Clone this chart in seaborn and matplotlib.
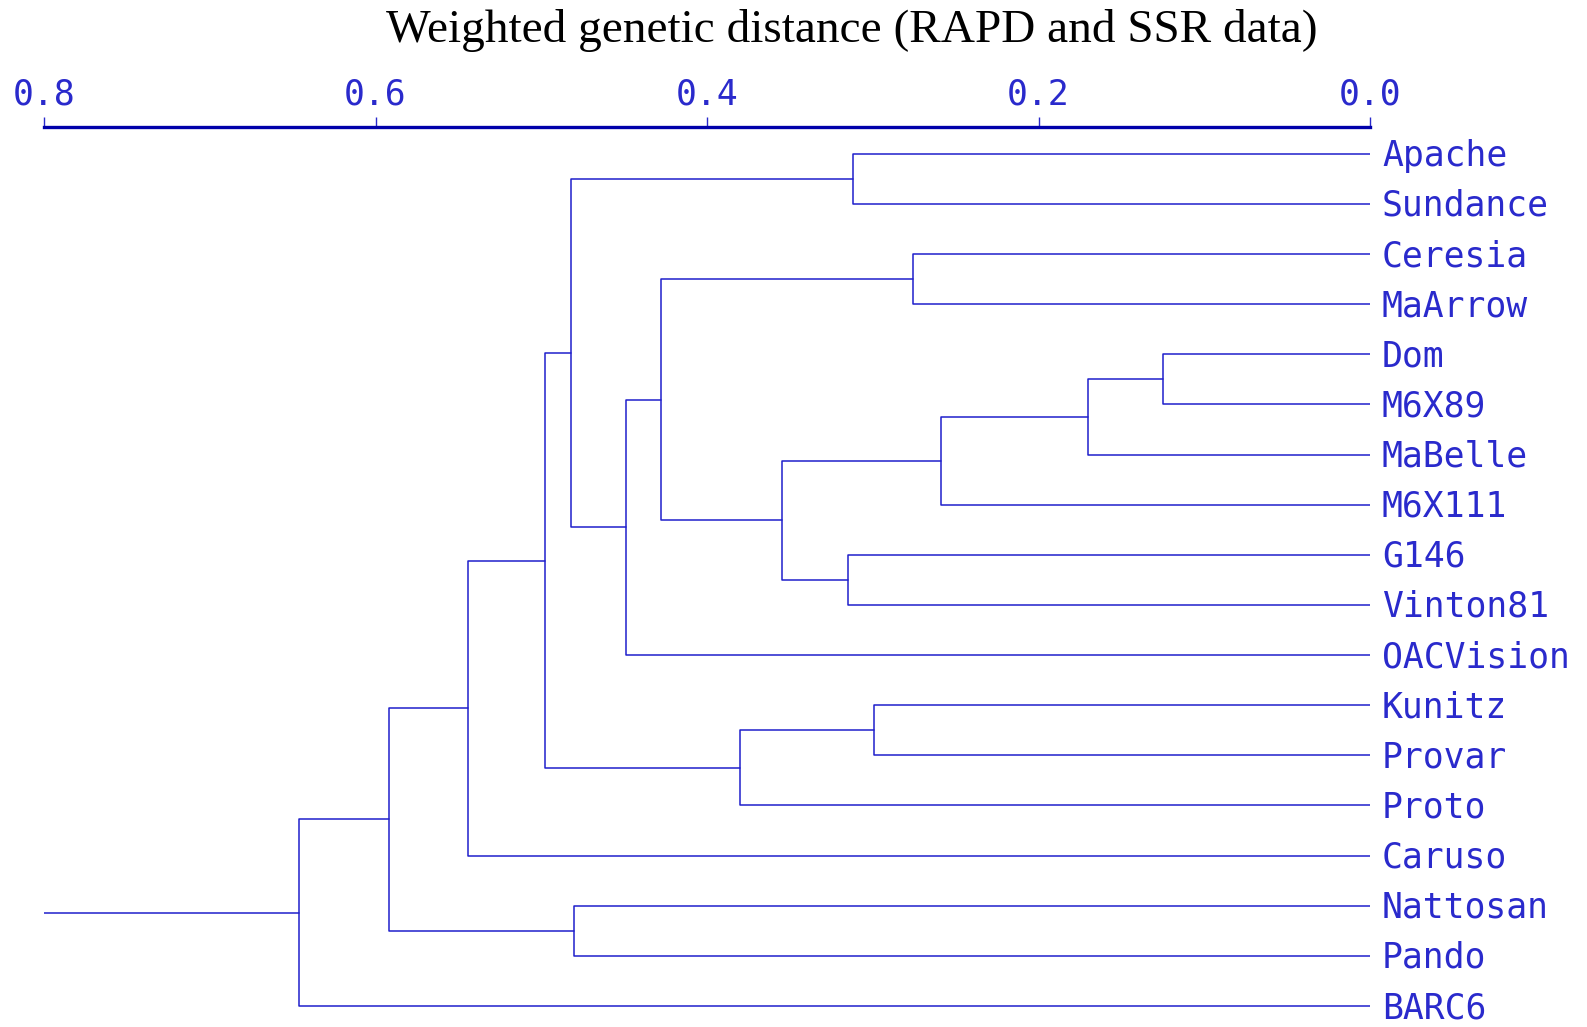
import numpy as np
import pandas as pd
import matplotlib
matplotlib.use("Agg")
import matplotlib.pyplot as plt
import seaborn as sns

# ---- data ----
leaves = ["Apache", "Sundance", "Ceresia", "MaArrow", "Dom", "M6X89", "MaBelle",
          "M6X111", "G146", "Vinton81", "OACVision", "Kunitz", "Provar", "Proto",
          "Caruso", "Nattosan", "Pando", "BARC6"]
# merges: new cluster ids start at len(leaves)
merge_left = [0, 2, 4, 20, 21, 8, 22, 19, 25, 18, 11, 28, 27, 30, 15, 31, 33]
merge_right = [1, 3, 5, 6, 7, 9, 23, 24, 10, 26, 12, 13, 29, 14, 16, 32, 17]
merge_height = [0.312, 0.276, 0.125, 0.170, 0.259, 0.315, 0.355, 0.428, 0.449,
                0.482, 0.299, 0.380, 0.498, 0.544, 0.480, 0.592, 0.646]
root_extent = 0.8
tick_values = [0.8, 0.6, 0.4, 0.2, 0.0]
tick_labels = ["0.8", "0.6", "0.4", "0.2", "0.0"]
title = "Weighted genetic distance (RAPD and SSR data)"

# ---- build segments ----
n = len(leaves)
ypos = {i: float(i) for i in range(n)}
hpos = {i: 0.0 for i in range(n)}
rows = []
for k, (a, b, h) in enumerate(zip(merge_left, merge_right, merge_height)):
    cid = n + k
    pts = [(hpos[a], ypos[a]), (h, ypos[a]), (h, ypos[b]), (hpos[b], ypos[b])]
    for j, (x, y) in enumerate(pts):
        rows.append({"seg": k, "order": j, "x": x, "y": y})
    ypos[cid] = (ypos[a] + ypos[b]) / 2
    hpos[cid] = h
root = n + len(merge_height) - 1
rows.append({"seg": len(merge_height), "order": 0, "x": hpos[root], "y": ypos[root]})
rows.append({"seg": len(merge_height), "order": 1, "x": root_extent, "y": ypos[root]})
df = pd.DataFrame(rows)

# ---- figure ----
sns.set_theme(style="white")
W, H = 1587, 1027
fig = plt.figure(figsize=(W / 100, H / 100), dpi=100)
x0, x1 = 44, 1370
top_px = 126.5
ax = fig.add_axes([x0 / W, 0, (x1 - x0) / W, (H - top_px) / H])

line_color = "#1f1fcc"
sns.lineplot(data=df, x="x", y="y", units="seg", estimator=None, sort=False,
             color=line_color, lw=1.1, ax=ax, legend=False)

y_first, y_last = 153.8, 1006.0
step = (y_last - y_first) / (n - 1)
ax.set_ylim((n - 1) + (H - y_last) / step, -(y_first - top_px) / step)
ax.set_xlim(0.8, 0.0)
ax.set_xlabel("")
ax.set_ylabel("")
ax.set_yticks([])

for s in ["left", "right", "bottom"]:
    ax.spines[s].set_visible(False)
ax.spines["top"].set_visible(True)
ax.spines["top"].set_color("#0000aa")
ax.spines["top"].set_linewidth(2.4)

ax.xaxis.tick_top()
ax.set_xticks(tick_values)
ax.set_xticklabels(tick_labels, family="DejaVu Sans Mono", fontsize=25,
                   color="#2a2acc")
ax.tick_params(axis="x", top=True, bottom=False, direction="out", length=7,
               width=1.0, color="#2a2acc", pad=4)

for i, name in enumerate(leaves):
    ax.text(-0.0072, i + 0.04, name, family="DejaVu Sans Mono", fontsize=25,
            color="#2a2acc", ha="left", va="center", clip_on=False)

fig.text(852 / W, 1 - 30 / H, title, family="Liberation Serif", fontsize=34,
         color="black", ha="center", va="center")

fig.savefig("out.png", dpi=100, facecolor="white")
